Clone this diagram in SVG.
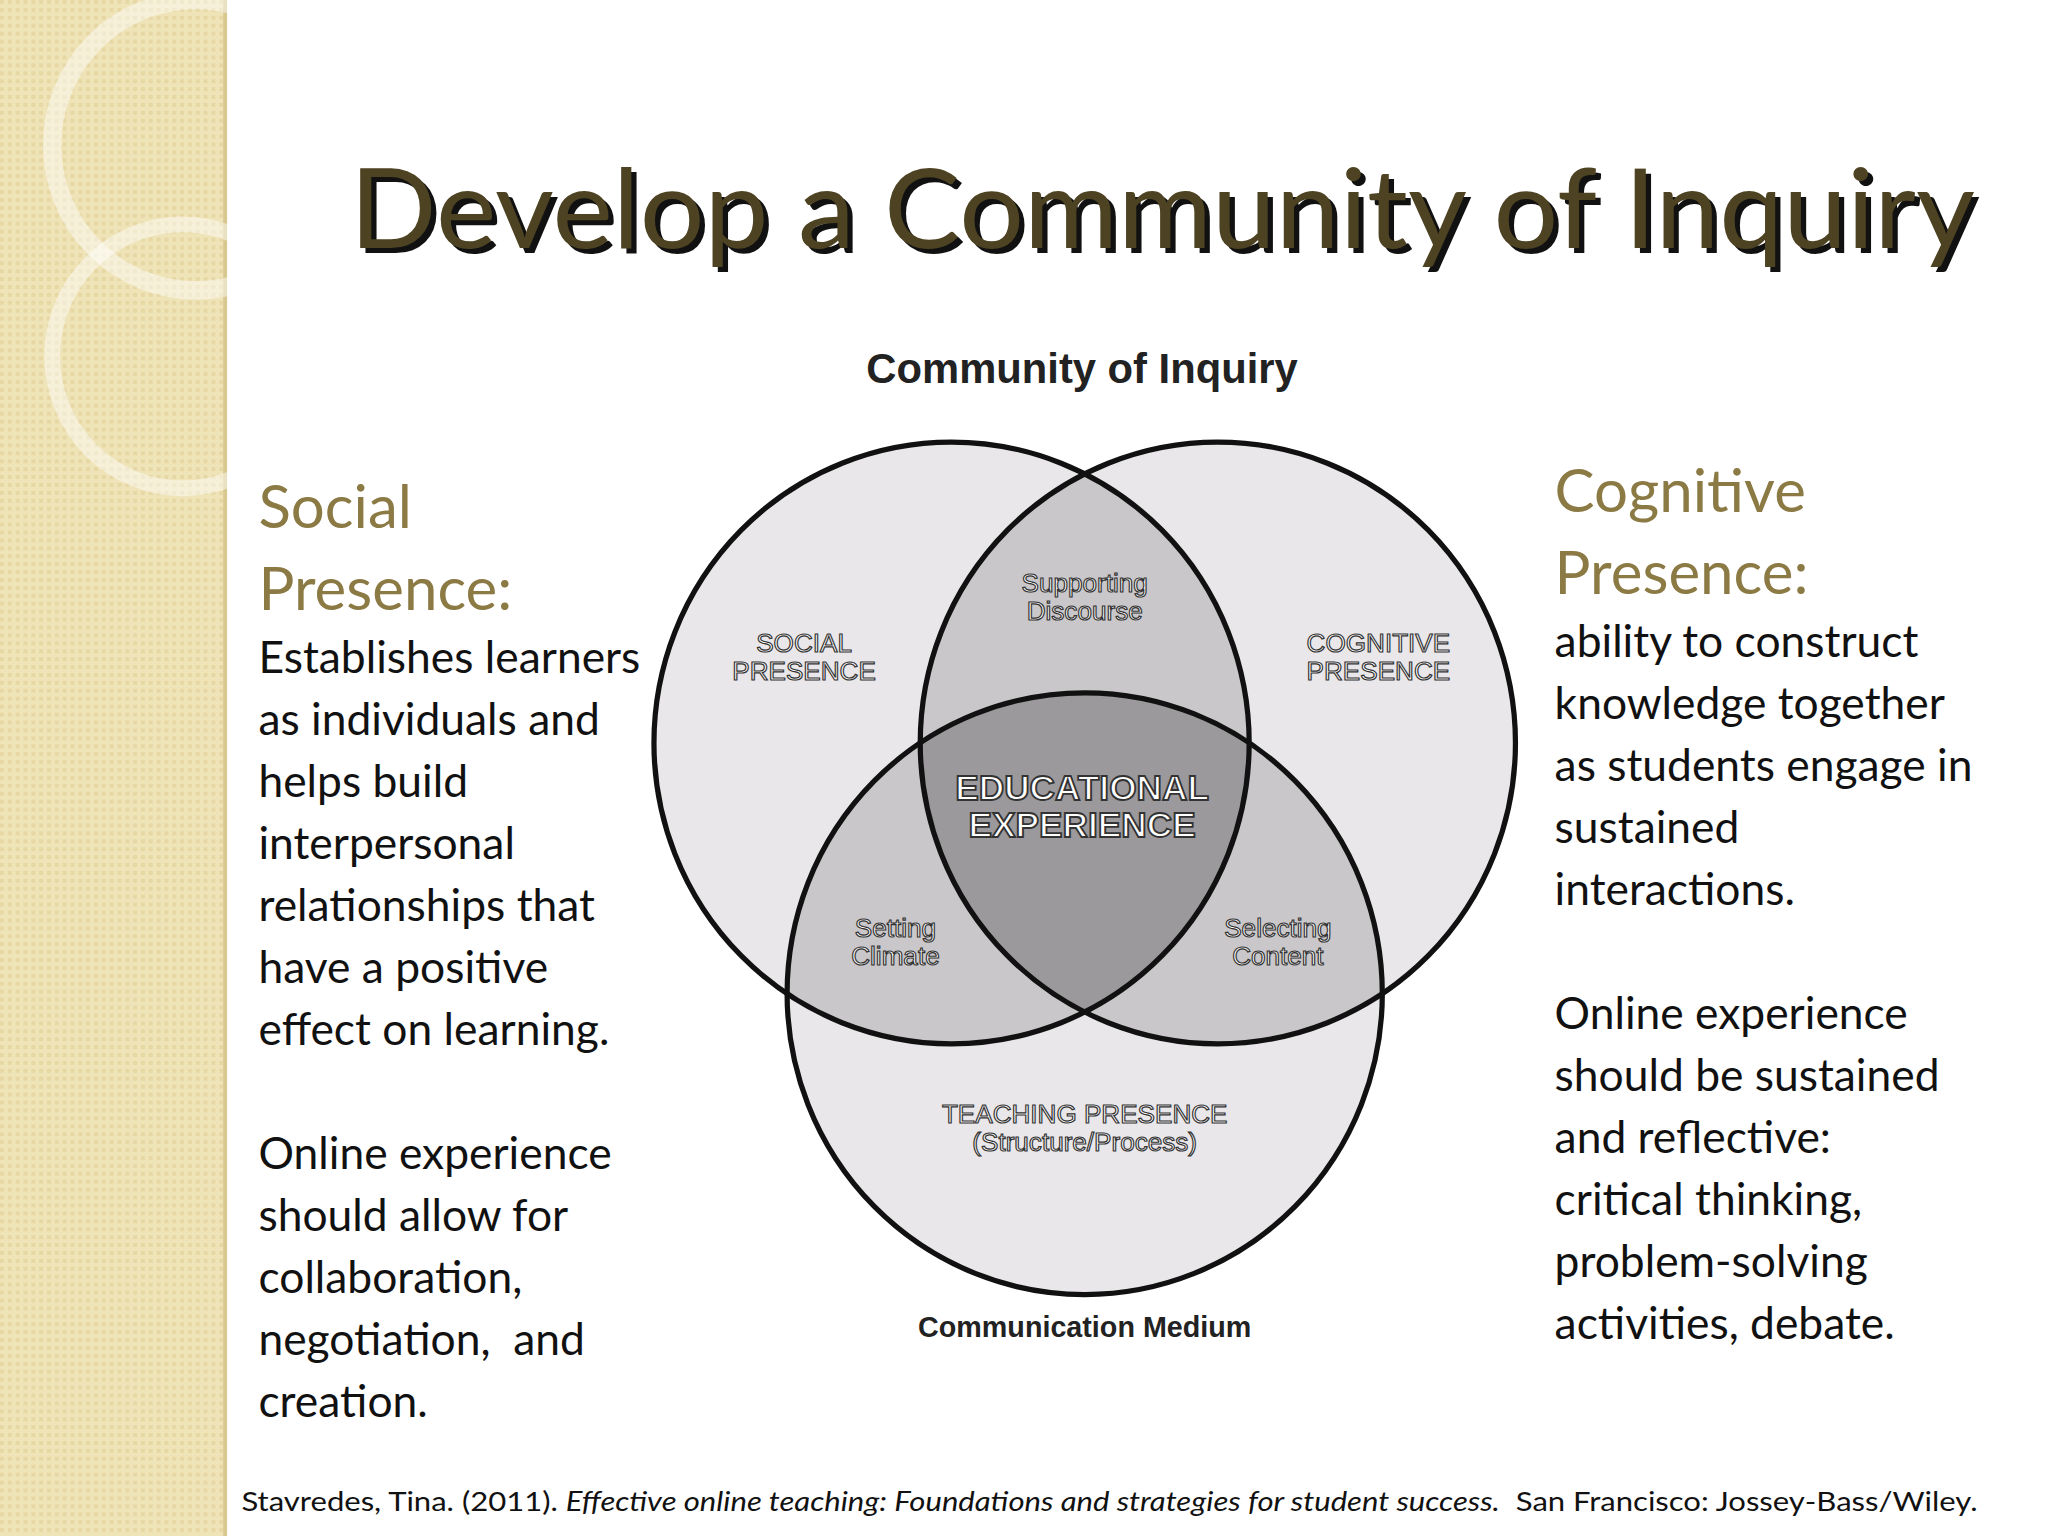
<svg xmlns="http://www.w3.org/2000/svg" width="2048" height="1536" viewBox="0 0 2048 1536">
<defs>
<pattern id="pat" width="6" height="6" patternUnits="userSpaceOnUse"><rect width="6" height="6" fill="#efe3b8"/><rect width="3" height="3" fill="#e6d7a4"/></pattern>
<clipPath id="cS"><circle cx="729" cy="563" r="228"/></clipPath>
<clipPath id="cC"><circle cx="933" cy="563" r="228"/></clipPath>
<style>
.b{font-family:"Lato","Open Sans",sans-serif;font-size:34px;fill:#111}
.h{font-family:"Lato","Open Sans",sans-serif;font-size:46px;fill:#8c7a45}
.c{fill:none;stroke:#111;stroke-width:4}
.ee{font-size:27px;font-weight:bold;stroke-width:1.4px}
</style>
</defs>
<g transform="scale(1.3053,1.3196)">
<rect width="1570" height="1164" fill="#fff"/>
<rect width="173" height="1164" fill="url(#pat)"/>
<rect x="171" width="3" height="1164" fill="#d8c890"/>
<g fill="none" stroke="#fff" stroke-opacity="0.45">
<circle cx="150" cy="110" r="110" stroke-width="14"/>
<circle cx="140" cy="270" r="100" stroke-width="12"/>
</g>
<g id="title">
<text x="272" y="192" font-family="Lato,'Open Sans',sans-serif" font-size="84" fill="#111" textLength="1245" lengthAdjust="spacingAndGlyphs">Develop a Community of Inquiry</text>
<text x="268" y="188" font-family="Lato,'Open Sans',sans-serif" font-size="84" fill="#4d4222" textLength="1245" lengthAdjust="spacingAndGlyphs">Develop a Community of Inquiry</text>
</g>
<text x="829" y="290" text-anchor="middle" font-family="'Liberation Sans',Arial,sans-serif" font-weight="bold" font-size="32" fill="#222">Community of Inquiry</text>
<g id="venn">
<circle cx="729" cy="563" r="228" fill="#e9e7ea"/>
<circle cx="933" cy="563" r="228" fill="#e9e7ea"/>
<circle cx="831" cy="753" r="228" fill="#e9e7ea"/>
<circle cx="933" cy="563" r="228" fill="#c9c7c9" clip-path="url(#cS)"/>
<circle cx="831" cy="753" r="228" fill="#c9c7c9" clip-path="url(#cS)"/>
<circle cx="831" cy="753" r="228" fill="#c9c7c9" clip-path="url(#cC)"/>
<g clip-path="url(#cS)"><circle cx="831" cy="753" r="228" fill="#9b999b" clip-path="url(#cC)"/></g>
<circle class="c" cx="729" cy="563" r="228"/>
<circle class="c" cx="933" cy="563" r="228"/>
<circle class="c" cx="831" cy="753" r="228"/>
</g>
<g id="labels" font-family="'Liberation Sans',Arial,sans-serif" font-size="20" fill="#fff" stroke="#333" stroke-width="0.9" text-anchor="middle">
<text x="616" y="494">SOCIAL</text><text x="616" y="515">PRESENCE</text>
<text x="1056" y="494">COGNITIVE</text><text x="1056" y="515">PRESENCE</text>
<text x="831" y="449">Supporting</text><text x="831" y="470">Discourse</text>
<text x="686" y="710">Setting</text><text x="686" y="731">Climate</text>
<text x="979" y="710">Selecting</text><text x="979" y="731">Content</text>
<text x="831" y="851">TEACHING PRESENCE</text><text x="831" y="872">(Structure/Process)</text>
<text class="ee" x="829" y="606">EDUCATIONAL</text>
<text class="ee" x="829" y="634">EXPERIENCE</text>
</g>
<text x="831" y="1013" text-anchor="middle" font-family="'Liberation Sans',Arial,sans-serif" font-weight="bold" font-size="22" fill="#222">Communication Medium</text>
<g id="left">
<text class="h" x="198" y="400">Social</text>
<text class="h" x="198" y="462">Presence:</text>
<text class="b" x="198" y="510">Establishes learners</text>
<text class="b" x="198" y="557">as individuals and</text>
<text class="b" x="198" y="604">helps build</text>
<text class="b" x="198" y="651">interpersonal</text>
<text class="b" x="198" y="698">relationships that</text>
<text class="b" x="198" y="745">have a positive</text>
<text class="b" x="198" y="792">effect on learning.</text>
<text class="b" x="198" y="886">Online experience</text>
<text class="b" x="198" y="933">should allow for</text>
<text class="b" x="198" y="980">collaboration,</text>
<text class="b" x="198" y="1027" xml:space="preserve">negotiation,  and</text>
<text class="b" x="198" y="1074">creation.</text>
</g>
<g id="right">
<text class="h" x="1191" y="388">Cognitive</text>
<text class="h" x="1191" y="450">Presence:</text>
<text class="b" x="1191" y="498">ability to construct</text>
<text class="b" x="1191" y="545">knowledge together</text>
<text class="b" x="1191" y="592">as students engage in</text>
<text class="b" x="1191" y="639">sustained</text>
<text class="b" x="1191" y="686">interactions.</text>
<text class="b" x="1191" y="780">Online experience</text>
<text class="b" x="1191" y="827">should be sustained</text>
<text class="b" x="1191" y="874">and reflective:</text>
<text class="b" x="1191" y="921">critical thinking,</text>
<text class="b" x="1191" y="968">problem-solving</text>
<text class="b" x="1191" y="1015">activities, debate.</text>
</g>
<text x="185" y="1145" font-family="Lato,'Open Sans',sans-serif" font-size="21" fill="#111" textLength="1330" lengthAdjust="spacingAndGlyphs" xml:space="preserve">Stavredes, Tina. (2011). <tspan font-style="italic">Effective online teaching: Foundations and strategies for student success.</tspan>  San Francisco: Jossey-Bass/Wiley.</text>
</g>
</svg>
